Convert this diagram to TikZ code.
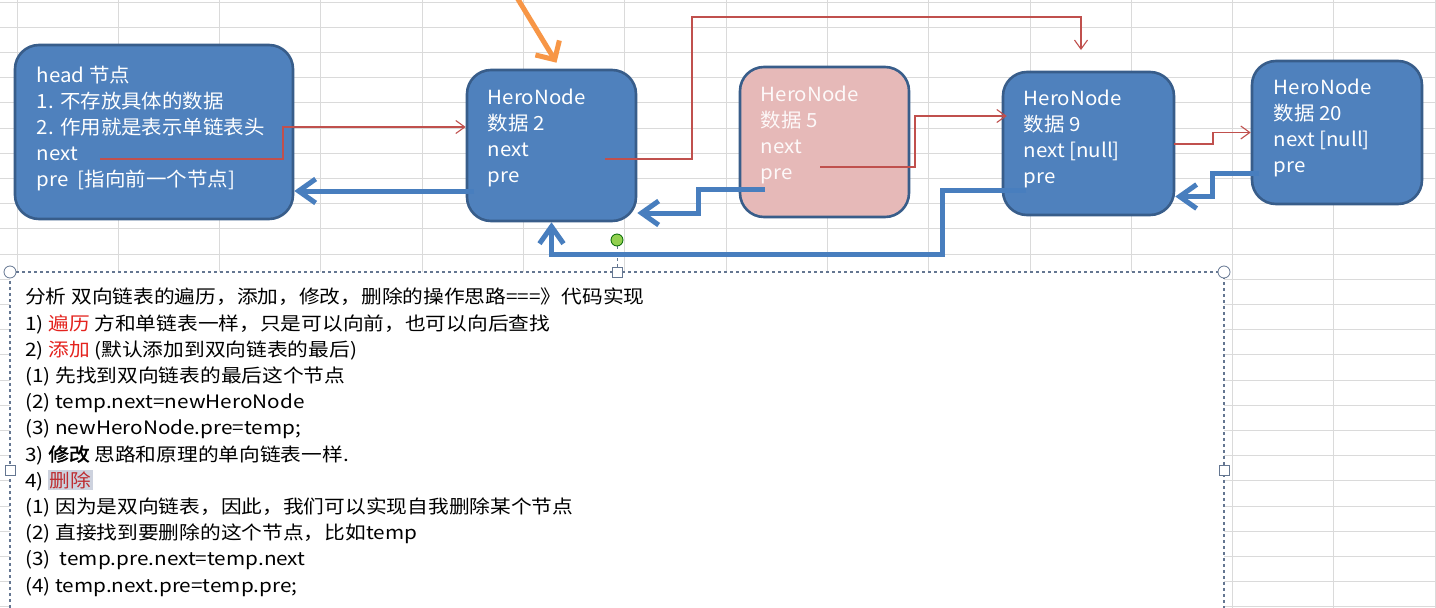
\documentclass[tikz,border=0pt]{standalone}
\usepackage{fontspec}
\usepackage{xcolor}
\usetikzlibrary{arrows.meta,positioning,calc}

\newfontfamily\nodefont[FakeStretch=1.05]{Noto Sans CJK SC}
\newfontfamily\notefont[FakeStretch=1.12,AutoFakeBold=2]{Noto Sans CJK SC}

\definecolor{boxfill}{RGB}{79,129,189}
\definecolor{boxedge}{RGB}{56,93,138}
\definecolor{pinkfill}{RGB}{230,185,184}
\definecolor{linkred}{RGB}{192,80,77}
\definecolor{prelink}{RGB}{72,126,190}
\definecolor{cursorange}{RGB}{247,150,70}
\definecolor{gridgray}{RGB}{218,218,218}
\definecolor{frameedge}{RGB}{100,118,145}
\definecolor{hotred}{RGB}{228,35,30}
\definecolor{delred}{RGB}{190,45,50}
\definecolor{selgray}{RGB}{205,210,222}
\definecolor{handlegreen}{RGB}{146,208,80}

\begin{document}
\begin{tikzpicture}[
x=1pt, y=-1pt,
box/.style={draw=boxedge, line width=2.6pt, fill=boxfill, rounded corners=24pt},
boxtext/.style={anchor=north west, align=left, inner sep=0pt, text=white, font=\nodefont\fontsize{19.5}{26}\selectfont},
notetext/.style={anchor=north west, align=left, inner sep=0pt, font=\notefont\fontsize{18.5}{26.2}\selectfont},
nextline/.style={draw=linkred, line width=1.1pt, -{Straight Barb[length=9pt,width=13pt]}},
preline/.style={draw=prelink, line width=5pt, -{Straight Barb[length=17pt,width=24pt]}},
curline/.style={draw=cursorange, line width=5pt, -{Straight Barb[length=14pt,width=28pt]}},
gridline/.style={draw=gridgray, line width=1pt},
handle/.style={draw=frameedge, fill=white, line width=0.8pt}
]
\useasboundingbox (0,0) rectangle (1436,608);
\fill[white] (0,0) rectangle (1436,608);

% --- sheet grid ---
\foreach \gx in {17,118.3,...,1436} \draw[gridline] (\gx,0) -- (\gx,608);
\foreach \gy in {2,27.2,...,608} \draw[gridline] (0,\gy) -- (1436,\gy);

% --- text box ---
\fill[white] (10,272) rectangle (1224,608);
\draw[frameedge, dashed, line width=1.1pt] (10,608) -- (10,272) -- (1224,272) -- (1224,608);
\draw[frameedge, dashed, line width=0.8pt] (617,246) -- (617,267);
\draw[handle] (10,272) circle (6pt);
\draw[handle] (1224,272) circle (6pt);
\draw[handle] (612,267) rectangle (622,277);
\draw[handle] (5,465) rectangle (15,475);
\draw[handle] (1219,465) rectangle (1229,475);
\draw[draw=black!60!green, fill=handlegreen, line width=0.8pt] (617,240) circle (6pt);

\node[notetext] (notes) at (25,288) {\rule{0pt}{14pt}分析 双向链表的遍历，添加，修改，删除的操作思路===》代码实现\\
1) \textcolor{hotred}{遍历} 方和单链表一样，只是可以向前，也可以向后查找\\
2) \textcolor{hotred}{添加} (默认添加到双向链表的最后)\\
(1) 先找到双向链表的最后这个节点\\
(2) temp.next=newHeroNode\\
(3) newHeroNode.pre=temp;\\
3) \textbf{修改} 思路和原理的单向链表一样.\\
4) {\setlength{\fboxsep}{1.5pt}\colorbox{selgray}{\textcolor{delred}{删除}}}\\
(1) 因为是双向链表，因此，我们可以实现自我删除某个节点\\
(2) 直接找到要删除的这个节点，比如temp\\
(3) ~temp.pre.next=temp.next\\
(4) temp.next.pre=temp.pre;};

% --- list nodes ---
\node[box, minimum width=278pt, minimum height=174pt] (head) at (154,132) {};
\node[box, minimum width=169pt, minimum height=151pt] (n2) at (551.5,145.5) {};
\node[box, fill=pinkfill, minimum width=169pt, minimum height=150pt] (n5) at (824.5,142) {};
\node[box, minimum width=171pt, minimum height=143pt] (n9) at (1088.5,143.5) {};
\node[box, minimum width=170pt, minimum height=143pt] (n20) at (1337,132.5) {};

\node[boxtext] (headtext) at ($(head.north west)+(23,22)$) {\rule{0pt}{15pt}head 节点\\1. 不存放具体的数据\\2. 作用就是表示单链表头\\next\\pre~~[指向前一个节点]};
\node[boxtext] (n2text) at ($(n2.north west)+(22,20)$) {\rule{0pt}{15pt}HeroNode\\数据 2\\next\\pre};
\node[boxtext, text=white!92!pinkfill] (n5text) at ($(n5.north west)+(22,20)$) {\rule{0pt}{15pt}HeroNode\\数据 5\\next\\pre};
\node[boxtext] (n9text) at ($(n9.north west)+(22,19)$) {\rule{0pt}{15pt}HeroNode\\数据 9\\next [null]\\pre};
\node[boxtext] (n20text) at ($(n20.north west)+(23,19)$) {\rule{0pt}{15pt}HeroNode\\数据 20\\next [null]\\pre};

% --- pointer ends ---
\coordinate (headnext) at (100,159);
\coordinate (twonext) at (605,159);
\coordinate (fivenext) at (820,167);
\coordinate (ninenext) at (1174,144);
\coordinate (twopre) at (474,191);
\coordinate (fivepre) at (765,189);
\coordinate (ninepre) at (1026,190);
\coordinate (twentypre) at (1259,173);
\coordinate (ninetop) at (1081,50);
\coordinate (pointer) at (516,-4);

% --- next links ---
\draw[nextline] (headnext) -- (283,159) |- ($(n2.west)+(0,-18.5)$);
\draw[nextline] (twonext) -- (692,159) |- (1081,17) -- (ninetop);
\draw[nextline] (fivenext) -- (915,167) |- ($(n9.west)+(5,-27.5)$);
\draw[nextline] (ninenext) -- (1213,144) |- (n20.west);

% --- pre links ---
\draw[preline] (twopre) -- ($(head.east)+(0,59)$);
\draw[preline] (fivepre) -- (698,189) |- ($(n2.east)+(0,67.5)$);
\draw[preline] (ninepre) -- (942,190) -- (942,254) -| (n2.south);
\draw[preline] (twentypre) -- (1212,173) |- ($(n9.east)+(0,53)$);

\draw[curline] (pointer) -- ($(n2.north)+(5,-6)$);

\end{tikzpicture}
\end{document}
